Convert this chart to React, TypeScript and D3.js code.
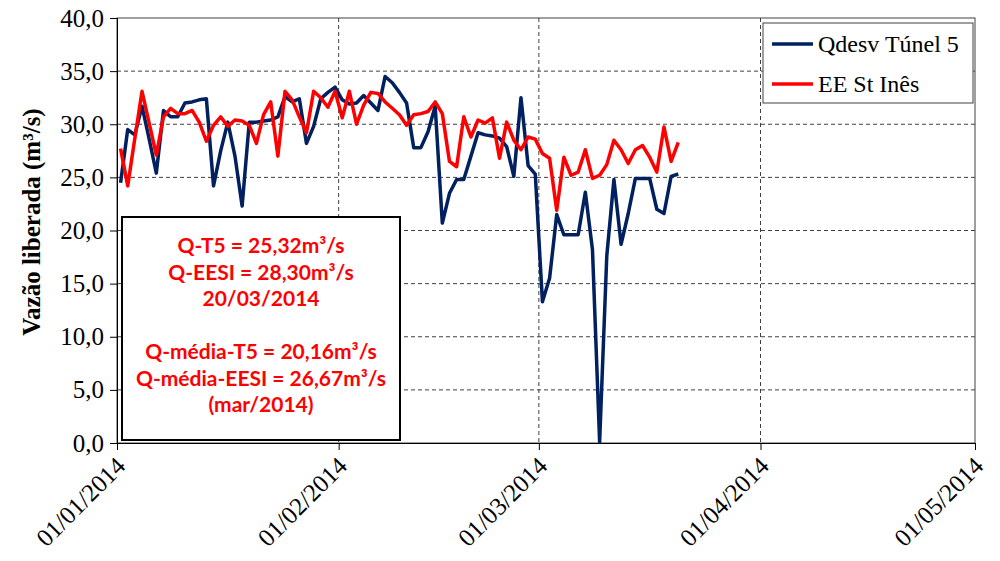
import React, { useRef, useEffect } from "react";
import * as d3 from "d3";

// vazão diária (m³/s), 01/01/2014 a 20/03/2014
const qdesvTunel5 = [
  24.5, 29.5, 29.0, 31.7, 28.6, 25.4, 31.3, 30.7, 30.7, 32.0, 32.1, 32.3, 32.4, 24.2, 27.5, 30.2,
  27.0, 22.3, 30.2, 30.2, 30.3, 30.4, 30.7, 32.6, 32.1, 32.4, 28.2, 29.8, 32.4, 33.0, 33.5,
  32.3, 31.9, 32.0, 32.7, 32.0, 31.3, 34.5, 33.9, 33.0, 32.0, 27.8, 27.8, 29.3, 31.7, 20.7,
  23.5, 24.8, 24.8, 27.0, 29.2, 29.0, 28.9, 28.7, 27.9, 25.1, 32.5, 26.1, 25.3,
  13.3, 15.5, 21.5, 19.6, 19.6, 19.6, 23.6, 18.2, 0.1, 17.6, 24.8, 18.7, 21.6, 24.9, 24.9,
  24.9, 22.0, 21.6, 25.1, 25.32,
];
const eeStInes = [
  27.7, 24.2, 28.7, 33.1, 30.1, 27.1, 30.7, 31.5, 31.0, 31.0, 31.3, 30.2, 28.4, 29.9, 30.7, 29.8,
  30.4, 30.3, 29.9, 28.2, 30.9, 32.1, 27.0, 33.1, 32.3, 30.7, 29.2, 33.1, 32.5, 31.6, 33.1,
  30.6, 33.1, 30.0, 31.8, 33.0, 32.9, 32.1, 31.5, 30.9, 29.9, 30.9, 31.0, 31.2, 32.1, 31.0,
  26.5, 26.0, 30.7, 28.8, 30.4, 30.1, 30.6, 26.8, 30.2, 28.5, 27.6, 28.8, 28.6,
  27.25, 26.8, 21.9, 26.9, 25.2, 25.5, 27.6, 24.9, 25.2, 26.2, 28.5, 27.6, 26.3, 27.6, 28.0,
  26.9, 25.5, 29.75, 26.5, 28.3,
];
const dates = d3.timeDay.range(new Date(2014, 0, 1), new Date(2014, 2, 21));
const xTicks = [0, 1, 2, 3, 4].map((m) => new Date(2014, m, 1));
const yTicks = [0, 5, 10, 15, 20, 25, 30, 35, 40];

const series = [
  { name: "Qdesv Túnel 5", values: qdesvTunel5, color: "#002060" },
  { name: "EE St Inês", values: eeStInes, color: "#FF0000" },
];

const boxLines = [
  "Q-T5 = 25,32m³/s",
  "Q-EESI = 28,30m³/s",
  "20/03/2014",
  "",
  "Q-média-T5 = 20,16m³/s",
  "Q-média-EESI = 26,67m³/s",
  "(mar/2014)",
];

const serif = "Liberation Serif, Times New Roman, DejaVu Serif, serif";

const App = () => {
  const ref = useRef<SVGSVGElement>(null);

  useEffect(() => {
    const svg = d3.select(ref.current);
    svg.selectAll("*").remove();

    const left = 117, right = 975, top = 18, bottom = 443;

    const x = d3.scaleTime().domain([xTicks[0], xTicks[4]]).range([left, right]);
    const y = d3.scaleLinear().domain([0, 40]).range([bottom, top]);

    // linhas de grade
    svg.append("g")
      .selectAll("line")
      .data(yTicks.slice(1, -1))
      .enter()
      .append("line")
      .attr("x1", left).attr("x2", right)
      .attr("y1", (d) => y(d)).attr("y2", (d) => y(d))
      .attr("stroke", "#404040").attr("stroke-dasharray", "4,3");
    svg.append("g")
      .selectAll("line")
      .data(xTicks.slice(1, -1))
      .enter()
      .append("line")
      .attr("x1", (d) => x(d)).attr("x2", (d) => x(d))
      .attr("y1", top).attr("y2", bottom)
      .attr("stroke", "#404040").attr("stroke-dasharray", "4,3");

    svg.append("rect")
      .attr("x", left).attr("y", top)
      .attr("width", right - left).attr("height", bottom - top)
      .attr("fill", "none").attr("stroke", "#404040");

    // eixo y
    const yAxis = svg.append("g")
      .attr("transform", `translate(${left},0)`)
      .call(d3.axisLeft(y).tickValues(yTicks).tickSize(7).tickPadding(6)
        .tickFormat((d) => d3.format(".1f")(d as number).replace(".", ",")));
    yAxis.attr("font-family", null);
    yAxis.select(".domain").attr("stroke", "#000");
    yAxis.selectAll("text")
      .style("font-family", serif).style("font-size", "25px").attr("fill", "#000");

    // eixo x
    const xAxis = svg.append("g")
      .attr("transform", `translate(0,${bottom})`)
      .call(d3.axisBottom(x).tickValues(xTicks).tickSize(7)
        .tickFormat((d) => d3.timeFormat("%d/%m/%Y")(d as Date)));
    xAxis.attr("font-family", null);
    xAxis.select(".domain").attr("stroke", "#000");
    xAxis.selectAll("text")
      .style("font-family", serif).style("font-size", "25px").attr("fill", "#000")
      .attr("text-anchor", "end")
      .attr("transform", "translate(-10,5) rotate(-45)")
      .attr("dy", "0.7em");

    svg.append("text")
      .attr("transform", "translate(40,222) rotate(-90)")
      .attr("text-anchor", "middle")
      .style("font-family", serif).style("font-size", "25px").style("font-weight", "bold")
      .text("Vazão liberada (m³/s)");

    // séries (pontos ao meio-dia)
    const line = d3.line<number>()
      .x((d, i) => x(d3.timeHour.offset(dates[i], 12)))
      .y((d) => y(d));
    series.forEach((s) => {
      svg.append("path")
        .datum(s.values)
        .attr("d", line)
        .attr("fill", "none")
        .attr("stroke", s.color)
        .attr("stroke-width", 3.5)
        .attr("stroke-linejoin", "round");
    });

    // caixa de texto
    svg.append("rect")
      .attr("x", 122).attr("y", 217).attr("width", 278).attr("height", 223)
      .attr("fill", "#fff").attr("stroke", "#000").attr("stroke-width", 2);
    svg.append("g")
      .selectAll("text")
      .data(boxLines)
      .enter()
      .append("text")
      .attr("x", 261)
      .attr("y", (d, i) => 253 + i * 26.5)
      .attr("text-anchor", "middle")
      .style("font-family", "Lato, Open Sans, sans-serif")
      .style("font-weight", "bold")
      .style("font-size", "21px")
      .attr("fill", "#FF0000")
      .text((d) => d);

    // legenda
    const lg = svg.append("g");
    lg.append("rect")
      .attr("x", 763).attr("y", 23).attr("width", 210).attr("height", 80)
      .attr("fill", "#fff").attr("stroke", "#404040");
    series.forEach((s, i) => {
      const ly = 44 + i * 40;
      lg.append("line")
        .attr("x1", 772).attr("x2", 813).attr("y1", ly).attr("y2", ly)
        .attr("stroke", s.color).attr("stroke-width", 3.5);
      lg.append("text")
        .attr("x", 818).attr("y", ly + 8)
        .style("font-family", serif).style("font-size", "24px")
        .text(s.name);
    });
  }, []);

  return (
    <svg
      ref={ref}
      width={1000}
      height={561}
      style={{ position: "absolute", left: 0, top: 0, background: "#fff" }}
    />
  );
};

export default App;
